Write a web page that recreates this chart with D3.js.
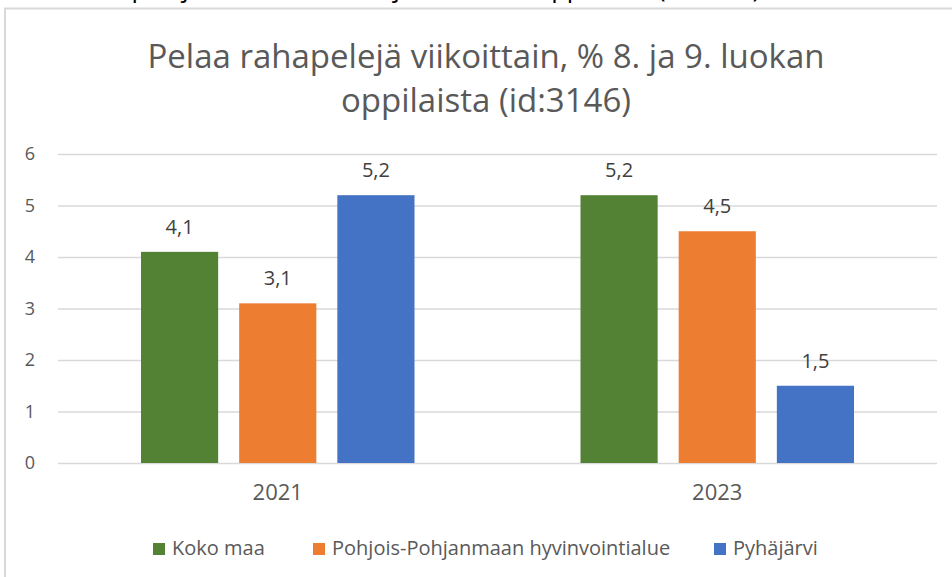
<!DOCTYPE html>
<html>
<head>
<meta charset="utf-8">
<script src="https://cdn.jsdelivr.net/npm/d3@7"></script>
<style>
  body { margin: 0; background: #fff; }
  svg { display: block; }
  .lab { font-family: "Open Sans", "Noto Sans", sans-serif; }
</style>
</head>
<body>
<div id="chart"></div>
<script>
// ====== Pelaa rahapelejä viikoittain ======

let years = ["2021", "2023"];
let seriesNames = ["Koko maa", "Pohjois-Pohjanmaan hyvinvointialue", "Pyhäjärvi"];
let kokoMaa = [4.1, 5.2];
let pohjoisPohjanmaa = [3.1, 4.5];
let pyhajarvi = [5.2, 1.5];
let seriesColors = ["#548235", "#ED7D31", "#4472C4"];
let yTicks = [0, 1, 2, 3, 4, 5, 6];

let titleLines = ["Pelaa rahapelejä viikoittain, % 8. ja 9. luokan", "oppilaista (id:3146)"];
let pageHeading = "Pelaa rahapelejä viikoittain, % 8. ja 9. luokan oppilaista (id:3146)";

let W = 952, H = 577;
let margin = {top: 154, right: 15, bottom: 114, left: 58},
    width = W - margin.left - margin.right,
    height = H - margin.top - margin.bottom;

let svg = d3.select("#chart").append("svg")
    .attr("width", W)
    .attr("height", H);

// page heading above the chart (only its bottom edge shows)
svg.append("text")
    .attr("class", "lab")
    .attr("x", 760)
    .attr("y", -3)
    .style("text-anchor", "end")
    .style("font-size", "25.5px")
    .style("fill", "#000")
    .text(pageHeading);

// chart frame
svg.append("rect")
    .attr("x", 5)
    .attr("y", 8.5)
    .attr("width", W + 20)
    .attr("height", H + 20)
    .attr("fill", "#fff")
    .attr("stroke", "#d9d9d9")
    .attr("stroke-width", 2);

// title
svg.append("text")
    .attr("class", "lab")
    .attr("x", 486)
    .attr("y", 68)
    .style("text-anchor", "middle")
    .style("font-size", "33px")
    .style("fill", "#595959")
    .selectAll("tspan")
    .data(titleLines)
    .enter().append("tspan")
    .attr("x", 486)
    .attr("dy", function(d, i) { return i === 0 ? 0 : 44; })
    .text(function(d) { return d; });

let g = svg.append("g")
    .attr("transform", "translate(" + margin.left + "," + margin.top + ")");

// scales
let x0 = d3.scaleBand()
    .domain(years)
    .range([0, width]);
let groupPad = 83;
let x1 = d3.scaleBand()
    .domain(seriesNames)
    .range([groupPad, x0.bandwidth() - groupPad])
    .paddingInner(0.214);
let y = d3.scaleLinear()
    .domain([0, 6])
    .range([height, 0]);

// gridlines
let grid = g.append("g")
    .call(d3.axisLeft(y).tickValues(yTicks).tickSize(-width).tickFormat(""));
grid.select(".domain").remove();
grid.selectAll("line").attr("stroke", "#d9d9d9").attr("stroke-width", 1.5);

// y labels
let yAxis = g.append("g")
    .call(d3.axisLeft(y).tickValues(yTicks).tickSize(0).tickPadding(23).tickFormat(d3.format("d")));
yAxis.select(".domain").remove();
yAxis.selectAll("text")
    .attr("class", "lab")
    .style("font-size", "18px")
    .style("fill", "#595959");

// data rows
let rows = years.map(function(yr, i) {
    return {
        year: yr,
        values: [kokoMaa[i], pohjoisPohjanmaa[i], pyhajarvi[i]].map(function(v, j) {
            return {name: seriesNames[j], value: v, color: seriesColors[j]};
        })
    };
});

let groups = g.selectAll(".grp")
    .data(rows)
    .enter().append("g")
    .attr("class", "grp")
    .attr("transform", function(d) { return "translate(" + x0(d.year) + ",0)"; });

groups.selectAll("rect")
    .data(function(d) { return d.values; })
    .enter().append("rect")
    .attr("x", function(d) { return x1(d.name); })
    .attr("width", x1.bandwidth())
    .attr("y", function(d) { return y(d.value); })
    .attr("height", function(d) { return height - y(d.value); })
    .attr("fill", function(d) { return d.color; });

groups.selectAll(".lbl")
    .data(function(d) { return d.values; })
    .enter().append("text")
    .attr("class", "lbl lab")
    .attr("x", function(d) { return x1(d.name) + x1.bandwidth() / 2; })
    .attr("y", function(d) { return y(d.value) - 18; })
    .style("text-anchor", "middle")
    .style("font-size", "20px")
    .style("fill", "#404040")
    .text(function(d) { return d3.format(".1f")(d.value).replace(".", ","); });

// x axis labels
let xAxis = g.append("g")
    .attr("transform", "translate(0," + height + ")")
    .call(d3.axisBottom(x0).tickSize(0).tickPadding(21));
xAxis.select(".domain").remove();
xAxis.selectAll("text")
    .attr("class", "lab")
    .style("font-size", "22px")
    .style("fill", "#595959");

// legend
let legendX = [153, 313, 714];
let legend = svg.selectAll(".leg")
    .data(seriesNames)
    .enter().append("g")
    .attr("class", "leg")
    .attr("transform", function(d, i) { return "translate(" + legendX[i] + ",543)"; });
legend.append("rect")
    .attr("width", 12)
    .attr("height", 12)
    .attr("fill", function(d, i) { return seriesColors[i]; });
legend.append("text")
    .attr("class", "lab")
    .attr("x", 19)
    .attr("y", 12)
    .style("font-size", "20px")
    .style("fill", "#595959")
    .text(function(d) { return d; });
</script>
</body>
</html>
